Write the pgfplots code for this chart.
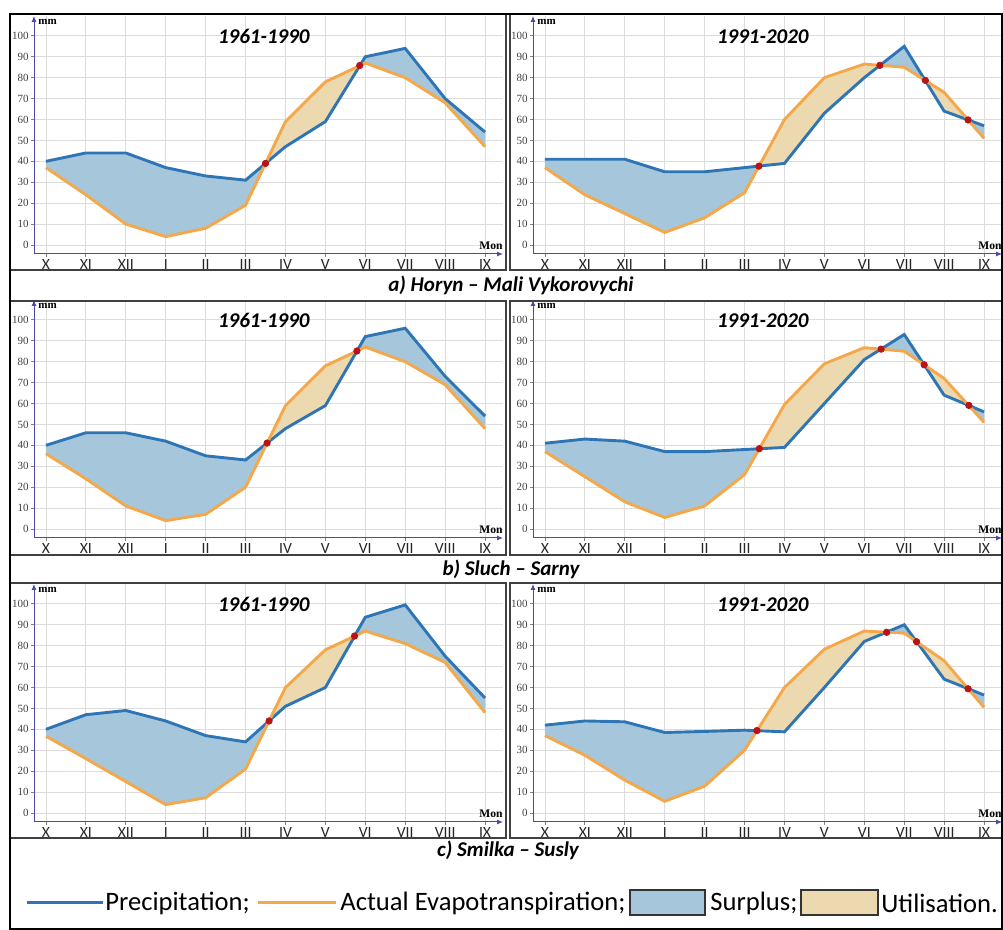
\documentclass[border=0pt]{standalone}
\usepackage{fontspec}
\setmainfont{Carlito}
\newfontfamily\tickfont{Liberation Serif}
\usepackage{pgfplots}
\pgfplotsset{compat=1.18}
\usepackage{pgfplotstable}
\usepgfplotslibrary{fillbetween}
\usetikzlibrary{arrows.meta}

\definecolor{precip}{HTML}{2E75B6}
\definecolor{evap}{HTML}{F4A84A}
\definecolor{surplus}{HTML}{A6C7DB}
\definecolor{util}{HTML}{EDD9B0}
\definecolor{axcol}{HTML}{4B4BA8}
\definecolor{gridcol}{HTML}{DCDCDC}
\definecolor{dotred}{HTML}{B81418}

\pgfplotstableread{
m P E
0 40 37
1 44 24
2 44 10
3 37 4
4 33 8
5 31 19
6 47 59
7 59 78
8 90 87
9 94 80
10 70 68
11 54 47
}\dataAL
\pgfplotstableread{
m P E
0 41 37
1 41 24
2 41 15
3 35 6
4 35 13
5 37 25
6 39 60
7 63 80
8 80 86.5
9 95 85
10 64 73
11 57 51
}\dataAR
\pgfplotstableread{
m P E
0 40 36
1 46 24
2 46 11
3 42 4
4 35 7
5 33 20
6 48 59
7 59 78
8 92 87
9 96 80
10 73 69
11 54 48
}\dataBL
\pgfplotstableread{
m P E
0 41 37
1 43 25
2 42 13
3 37 5.5
4 37 11
5 38 26
6 39 59.5
7 60 79
8 81 86.7
9 93 85
10 64 72
11 56 51
}\dataBR
\pgfplotstableread{
m P E
0 40 36.7
1 47 26
2 49 15
3 44 4
4 37 7.3
5 34 21
6 51 60
7 60 78
8 93.6 87
9 99.5 81
10 75 72
11 55 48
}\dataCL
\pgfplotstableread{
m P E
0 42 37
1 44 27.6
2 43.6 15.7
3 38.5 5.6
4 39 12.8
5 39.6 30
6 38.8 60
7 60 78.3
8 82 87
9 90 86
10 64 72.8
11 56.4 50.5
}\dataCR

\pgfplotsset{
  panel/.style={
    set layers,
    scale only axis, width=234.5pt, height=119pt,
    anchor=south west,
    xmin=-0.3, xmax=11.45, ymin=-4.3, ymax=109.5,
    axis lines=left,
    axis line style={draw=axcol, line width=0.5pt, -{Latex[length=3pt,width=2.6pt]}},
    xtick={0,...,11},
    xticklabels={X,XI,XII,I,II,III,IV,V,VI,VII,VIII,IX},
    ytick={0,10,...,100},
    grid=major, grid style={gridcol, line width=0.4pt},
    tick align=outside, major tick length=1.5pt,
    tick style={gray, line width=0.4pt},
    xticklabel style={font=\fontsize{7.8}{8}\selectfont, inner sep=1pt, text=black!85},
    yticklabel style={font=\tickfont\fontsize{5.5}{6}\selectfont, inner sep=1pt, text=black!75},
    /pgf/number format/assume math mode=true,
  },
  pline/.style={precip, line width=1.45pt},
  eline/.style={evap, line width=1.45pt},
  sfill/.style={draw=none, fill=surplus},
  reddot/.style={only marks, mark=*, mark size=1.6pt, dotred},
}
\newcommand{\paneltext}[1]{%
  \node[font=\bfseries\itshape\fontsize{10.5}{12}\selectfont] at (rel axis cs:0.49,0.915) {#1};
  \node[anchor=north west, font=\tickfont\bfseries\fontsize{5.5}{6}\selectfont, inner sep=0pt, xshift=2pt, yshift=-1.5pt] at (rel axis cs:0,1) {mm};
  \node[anchor=south east, font=\tickfont\bfseries\fontsize{5.8}{6}\selectfont, inner sep=0pt, yshift=2pt] at (rel axis cs:1,0) {Mon};
}
\newcommand{\sufill}{\addplot[sfill] fill between[of=P and E, split, every even segment/.style={fill=surplus}, every odd segment/.style={fill=util}];}

\begin{document}
\begin{tikzpicture}

% ---------- row a ----------
\begin{axis}[panel, at={(17pt,338pt)}]
\addplot[name path=P, pline] table[x=m,y=P]{\dataAL};
\addplot[name path=E, eline] table[x=m,y=E]{\dataAL};
\sufill
\addplot[reddot] coordinates {(5.5,39) (7.86,85.8)};
\paneltext{1961-1990}
\end{axis}
\begin{axis}[panel, at={(266.5pt,338pt)}]
\addplot[name path=P, pline] table[x=m,y=P]{\dataAR};
\addplot[name path=E, eline] table[x=m,y=E]{\dataAR};
\sufill
\addplot[reddot] coordinates {(5.36,37.7) (8.39,85.9) (9.53,78.7) (10.6,59.8)};
\paneltext{1991-2020}
\end{axis}

% ---------- row b ----------
\begin{axis}[panel, at={(17pt,196pt)}]
\addplot[name path=P, pline] table[x=m,y=P]{\dataBL};
\addplot[name path=E, eline] table[x=m,y=E]{\dataBL};
\sufill
\addplot[reddot] coordinates {(5.54,41.1) (7.79,85.1)};
\paneltext{1961-1990}
\end{axis}
\begin{axis}[panel, at={(266.5pt,196pt)}]
\addplot[name path=P, pline] table[x=m,y=P]{\dataBR};
\addplot[name path=E, eline] table[x=m,y=E]{\dataBR};
\sufill
\addplot[reddot] coordinates {(5.37,38.4) (8.42,86.0) (9.5,78.5) (10.62,59.1)};
\paneltext{1991-2020}
\end{axis}

% ---------- row c ----------
\begin{axis}[panel, at={(17pt,54pt)}]
\addplot[name path=P, pline] table[x=m,y=P]{\dataCL};
\addplot[name path=E, eline] table[x=m,y=E]{\dataCL};
\sufill
\addplot[reddot] coordinates {(5.59,44.0) (7.73,84.6)};
\paneltext{1961-1990}
\end{axis}
\begin{axis}[panel, at={(266.5pt,54pt)}]
\addplot[name path=P, pline] table[x=m,y=P]{\dataCR};
\addplot[name path=E, eline] table[x=m,y=E]{\dataCR};
\sufill
\addplot[reddot] coordinates {(5.31,39.4) (8.56,86.4) (9.31,81.9) (10.6,59.4)};
\paneltext{1991-2020}
\end{axis}

% ---------- frames ----------
\draw[black!75, line width=0.8pt] (5pt,458pt) rectangle (253pt,330pt);
\draw[black!75, line width=0.8pt] (255pt,458pt) rectangle (501pt,330pt);
\draw[black!75, line width=0.8pt] (5pt,314.5pt) rectangle (253pt,187.5pt);
\draw[black!75, line width=0.8pt] (255pt,314.5pt) rectangle (501pt,187.5pt);
\draw[black!75, line width=0.8pt] (5pt,173.5pt) rectangle (253pt,46pt);
\draw[black!75, line width=0.8pt] (255pt,173.5pt) rectangle (501pt,46pt);
\draw[black, line width=1.2pt] (5pt,0.6pt) rectangle (501pt,458pt);

% ---------- captions ----------
\node[font=\bfseries\itshape\fontsize{10.5}{12}\selectfont] at (255.5pt,322.5pt) {a) Horyn -- Mali Vykorovychi};
\node[font=\bfseries\itshape\fontsize{10.5}{12}\selectfont] at (255.5pt,180.5pt) {b) Sluch -- Sarny};
\node[font=\bfseries\itshape\fontsize{10.5}{12}\selectfont] at (254pt,40pt) {c) Smilka -- Susly};

% ---------- legend ----------
\draw[precip, line width=1.5pt] (13.5pt,13.5pt) -- (51.5pt,13.5pt);
\node[anchor=west, inner sep=0pt, font=\fontsize{13.3}{15}\selectfont] at (52.5pt,13.5pt) {Precipitation;};
\draw[evap, line width=1.5pt] (129pt,13.5pt) -- (168pt,13.5pt);
\node[anchor=west, inner sep=0pt, font=\fontsize{13.3}{15}\selectfont] at (170pt,13.5pt) {Actual Evapotranspiration;};
\draw[black!80, line width=0.7pt, fill=surplus] (315pt,7.5pt) rectangle (352.5pt,20pt);
\node[anchor=west, inner sep=0pt, font=\fontsize{13.3}{15}\selectfont] at (355pt,13.5pt) {Surplus;};
\draw[black!80, line width=0.7pt, fill=util] (400.5pt,7.5pt) rectangle (439pt,20pt);
\node[anchor=west, inner sep=0pt, font=\fontsize{13.3}{15}\selectfont] at (440.5pt,13.5pt) {Utilisation.};

\pgfresetboundingbox
\useasboundingbox (0,0) rectangle (501.5pt,465pt);
\end{tikzpicture}
\end{document}
